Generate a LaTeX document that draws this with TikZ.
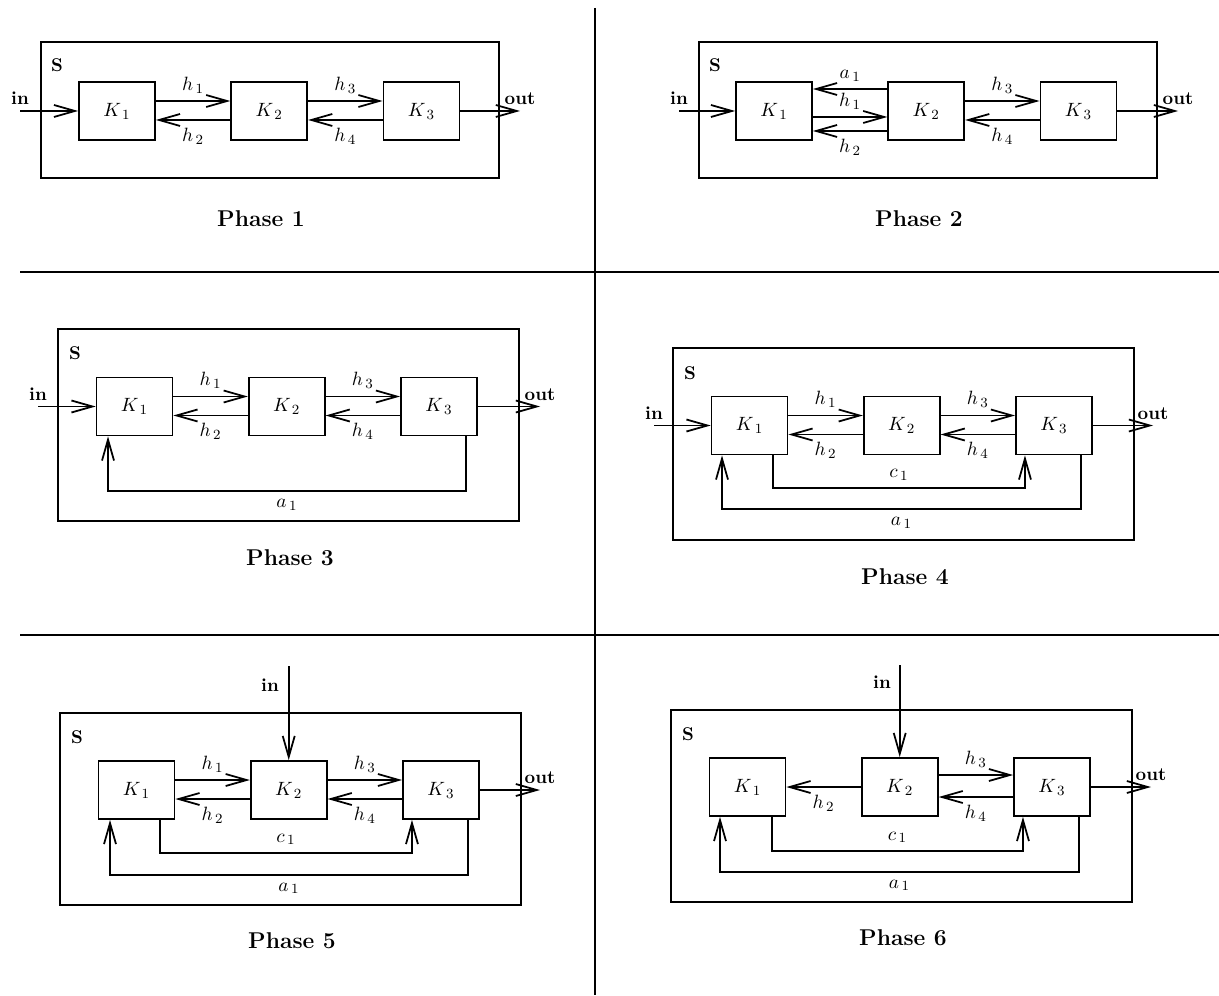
\documentclass[tikz,border=0pt]{standalone}
\usepackage{amsmath}
\usetikzlibrary{positioning,arrows.meta}

\tikzset{
  comp/.style={draw, minimum width=1.52cm, minimum height=1.16cm, inner sep=0pt, font=\fontsize{11}{13}\selectfont},
  lbl/.style={inner sep=4pt, font=\fontsize{11}{13}\selectfont},
  io/.style={font=\fontsize{10.5}{12}\selectfont\bfseries, inner sep=3pt},
  phase/.style={font=\fontsize{13}{15}\selectfont\bfseries},
}

\begin{document}
\begin{tikzpicture}[x=0.02cm, y=-0.02cm, line width=1pt,
  >={Straight Barb[length=0.42cm,width=0.24cm]}]
\useasboundingbox (0,0) rectangle (1219,996);

% Dividing lines
\draw (595,8) -- (595,995);
\draw (20,272) -- (1219,272);
\draw (20,635) -- (1219,635);

% Phase 1
\draw (41,42) rectangle (499,178);
\node[io] (p1s) at (57,65) {S};
\node[comp] (p1k1) at (117,111) {$K_{\,1}$};
\node[comp, right=1.49cm of p1k1] (p1k2) {$K_{\,2}$};
\node[comp, right=1.49cm of p1k2] (p1k3) {$K_{\,3}$};
\coordinate (p1a) at (20,111);
\coordinate (p1b) at (520,111);
\draw[->] (p1a) node[io, above] (p1in) {in} -- (p1k1.west);
\draw[->] (p1k3.east) -- (p1b) node[io, above] (p1out) {out};
\draw[->] ([yshift=0.2cm]p1k1.east) -- node[lbl, above] (p1h1) {$h_{\,1}$} ([yshift=0.2cm]p1k2.west);
\draw[->] ([yshift=-0.18cm]p1k2.west) -- node[lbl, below] (p1h2) {$h_{\,2}$} ([yshift=-0.18cm]p1k1.east);
\draw[->] ([yshift=0.2cm]p1k2.east) -- node[lbl, above] (p1h3) {$h_{\,3}$} ([yshift=0.2cm]p1k3.west);
\draw[->] ([yshift=-0.18cm]p1k3.west) -- node[lbl, below] (p1h4) {$h_{\,4}$} ([yshift=-0.18cm]p1k2.east);
\node[phase] (p1t) at (261,219) {Phase 1};

% Phase 2
\draw (699,42) rectangle (1157,178);
\node[io] (p2s) at (715,65) {S};
\node[comp] (p2k1) at (774,111) {$K_{\,1}$};
\node[comp, right=1.49cm of p2k1] (p2k2) {$K_{\,2}$};
\node[comp, right=1.49cm of p2k2] (p2k3) {$K_{\,3}$};
\coordinate (p2a) at (679,111);
\coordinate (p2b) at (1178,111);
\draw[->] (p2a) node[io, above] (p2in) {in} -- (p2k1.west);
\draw[->] (p2k3.east) -- (p2b) node[io, above] (p2out) {out};
\draw[->] ([yshift=0.44cm]p2k2.west) -- node[lbl, above] (p2a1) {$a_{\,1}$} ([yshift=0.44cm]p2k1.east);
\draw[->] ([yshift=-0.12cm]p2k1.east) -- node[lbl, above] (p2h1) {$h_{\,1}$} ([yshift=-0.12cm]p2k2.west);
\draw[->] ([yshift=-0.4cm]p2k2.west) -- node[lbl, below] (p2h2) {$h_{\,2}$} ([yshift=-0.4cm]p2k1.east);
\draw[->] ([yshift=0.2cm]p2k2.east) -- node[lbl, above] (p2h3) {$h_{\,3}$} ([yshift=0.2cm]p2k3.west);
\draw[->] ([yshift=-0.18cm]p2k3.west) -- node[lbl, below] (p2h4) {$h_{\,4}$} ([yshift=-0.18cm]p2k2.east);
\node[phase] (p2t) at (919,219) {Phase 2};

% Phase 3
\draw (58,329) rectangle (519,521);
\node[io] (p3s) at (75,353) {S};
\node[comp] (p3k1) at (134.5,406.5) {$K_{\,1}$};
\node[comp, right=1.49cm of p3k1] (p3k2) {$K_{\,2}$};
\node[comp, right=1.49cm of p3k2] (p3k3) {$K_{\,3}$};
\coordinate (p3a) at (38,406.5);
\coordinate (p3b) at (540,406.5);
\draw[->] (p3a) node[io, above] (p3in) {in} -- (p3k1.west);
\draw[->] (p3k3.east) -- (p3b) node[io, above] (p3out) {out};
\draw[->] ([yshift=0.2cm]p3k1.east) -- node[lbl, above] (p3h1) {$h_{\,1}$} ([yshift=0.2cm]p3k2.west);
\draw[->] ([yshift=-0.18cm]p3k2.west) -- node[lbl, below] (p3h2) {$h_{\,2}$} ([yshift=-0.18cm]p3k1.east);
\draw[->] ([yshift=0.2cm]p3k2.east) -- node[lbl, above] (p3h3) {$h_{\,3}$} ([yshift=0.2cm]p3k3.west);
\draw[->] ([yshift=-0.18cm]p3k3.west) -- node[lbl, below] (p3h4) {$h_{\,4}$} ([yshift=-0.18cm]p3k2.east);
\draw[->] ([xshift=0.54cm]p3k3.south) -- ++(0,55) -| node[lbl, pos=0.25, below] (p3a1) {$a_{\,1}$} ([xshift=-0.53cm]p3k1.south);
\node[phase] (p3t) at (290,558) {Phase 3};

% Phase 4
\draw (673,348) rectangle (1134,540);
\node[io] (p4s) at (690,373) {S};
\node[comp] (p4k1) at (749.5,425.5) {$K_{\,1}$};
\node[comp, right=1.49cm of p4k1] (p4k2) {$K_{\,2}$};
\node[comp, right=1.49cm of p4k2] (p4k3) {$K_{\,3}$};
\coordinate (p4a) at (654,425.5);
\coordinate (p4b) at (1153,425.5);
\draw[->] (p4a) node[io, above] (p4in) {in} -- (p4k1.west);
\draw[->] (p4k3.east) -- (p4b) node[io, above] (p4out) {out};
\draw[->] ([yshift=0.2cm]p4k1.east) -- node[lbl, above] (p4h1) {$h_{\,1}$} ([yshift=0.2cm]p4k2.west);
\draw[->] ([yshift=-0.18cm]p4k2.west) -- node[lbl, below] (p4h2) {$h_{\,2}$} ([yshift=-0.18cm]p4k1.east);
\draw[->] ([yshift=0.2cm]p4k2.east) -- node[lbl, above] (p4h3) {$h_{\,3}$} ([yshift=0.2cm]p4k3.west);
\draw[->] ([yshift=-0.18cm]p4k3.west) -- node[lbl, below] (p4h4) {$h_{\,4}$} ([yshift=-0.18cm]p4k2.east);
\draw[->] ([xshift=0.47cm]p4k1.south) -- ++(0,33) -| node[lbl, pos=0.25, above] (p4c1) {$c_{\,1}$} ([xshift=-0.58cm]p4k3.south);
\draw[->] ([xshift=0.54cm]p4k3.south) -- ++(0,54) -| node[lbl, pos=0.25, below] (p4a1) {$a_{\,1}$} ([xshift=-0.55cm]p4k1.south);
\node[phase] (p4t) at (905,577) {Phase 4};

% Phase 5
\draw (60,713) rectangle (521,905);
\node[io] (p5s) at (77,737) {S};
\node[comp] (p5k1) at (136.5,790) {$K_{\,1}$};
\node[comp, right=1.49cm of p5k1] (p5k2) {$K_{\,2}$};
\node[comp, right=1.49cm of p5k2] (p5k3) {$K_{\,3}$};
\coordinate (p5a) at ([yshift=1.88cm]p5k2.north);
\coordinate (p5b) at (540,790);
\node[io] (p5in) at (270,685) {in};
\draw[->] (p5a) -- (p5k2.north);
\draw[->] (p5k3.east) -- (p5b) node[io, above] (p5out) {out};
\draw[->] ([yshift=0.2cm]p5k1.east) -- node[lbl, above] (p5h1) {$h_{\,1}$} ([yshift=0.2cm]p5k2.west);
\draw[->] ([yshift=-0.18cm]p5k2.west) -- node[lbl, below] (p5h2) {$h_{\,2}$} ([yshift=-0.18cm]p5k1.east);
\draw[->] ([yshift=0.2cm]p5k2.east) -- node[lbl, above] (p5h3) {$h_{\,3}$} ([yshift=0.2cm]p5k3.west);
\draw[->] ([yshift=-0.18cm]p5k3.west) -- node[lbl, below] (p5h4) {$h_{\,4}$} ([yshift=-0.18cm]p5k2.east);
\draw[->] ([xshift=0.47cm]p5k1.south) -- ++(0,33) -| node[lbl, pos=0.25, above] (p5c1) {$c_{\,1}$} ([xshift=-0.58cm]p5k3.south);
\draw[->] ([xshift=0.54cm]p5k3.south) -- ++(0,55) -| node[lbl, pos=0.25, below] (p5a1) {$a_{\,1}$} ([xshift=-0.53cm]p5k1.south);
\node[phase] (p5t) at (292,941) {Phase 5};

% Phase 6
\draw (671,710) rectangle (1132,902);
\node[io] (p6s) at (688,734) {S};
\node[comp] (p6k1) at (747.5,787) {$K_{\,1}$};
\node[comp, right=1.49cm of p6k1] (p6k2) {$K_{\,2}$};
\node[comp, right=1.49cm of p6k2] (p6k3) {$K_{\,3}$};
\coordinate (p6a) at ([yshift=1.84cm]p6k2.north);
\coordinate (p6b) at (1151,787);
\node[io] (p6in) at (882,682) {in};
\draw[->] (p6a) -- (p6k2.north);
\draw[->] (p6k3.east) -- (p6b) node[io, above] (p6out) {out};
\draw[->] (p6k2.west) -- node[lbl, below] (p6h2) {$h_{\,2}$} (p6k1.east);
\draw[->] ([yshift=0.24cm]p6k2.east) -- node[lbl, above] (p6h3) {$h_{\,3}$} ([yshift=0.24cm]p6k3.west);
\draw[->] ([yshift=-0.2cm]p6k3.west) -- node[lbl, below] (p6h4) {$h_{\,4}$} ([yshift=-0.2cm]p6k2.east);
\draw[->] ([xshift=0.49cm]p6k1.south) -- ++(0,34) -| node[lbl, pos=0.25, above] (p6c1) {$c_{\,1}$} ([xshift=-0.58cm]p6k3.south);
\draw[->] ([xshift=0.54cm]p6k3.south) -- ++(0,55) -| node[lbl, pos=0.25, below] (p6a1) {$a_{\,1}$} ([xshift=-0.55cm]p6k1.south);
\node[phase] (p6t) at (903,938) {Phase 6};
\end{tikzpicture}
\end{document}
